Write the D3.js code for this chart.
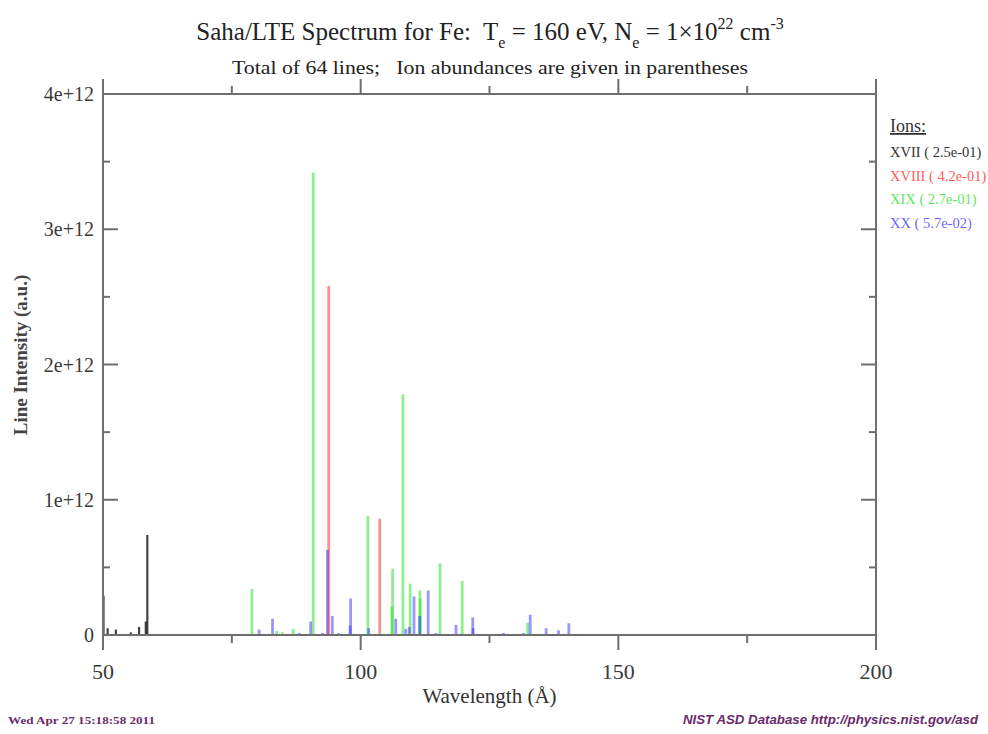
<!DOCTYPE html>
<html>
<head>
<meta charset="utf-8">
<script src="https://cdn.jsdelivr.net/npm/d3@7"></script>
<style>
body { margin: 0; background: #fff; }
svg { font-family: "Liberation Serif", "DejaVu Serif", serif; }
text { white-space: pre; }
</style>
</head>
<body>
<script>
// wavelengths (Angstrom) and intensities (units of 1e12) per ion
var xviiWl  = [50.1, 50.9, 52.5, 55.4, 57.0, 58.3, 58.6],
	xviiInt = [0.29, 0.05, 0.04, 0.02, 0.06, 0.10, 0.74];
var xviiiWl  = [93.8, 103.7],
	xviiiInt = [2.58, 0.86];
var xixWl  = [78.9, 83.7, 84.8, 86.9, 90.8, 101.4, 106.05, 106.2, 108.2, 109.6, 111.5, 111.55, 115.4, 119.7, 132.4],
	xixInt = [0.34, 0.03, 0.02, 0.045, 3.42, 0.88, 0.21, 0.49, 1.78, 0.38, 0.33, 0.27, 0.53, 0.40, 0.09];
var xxWl  = [80.3, 82.9, 88.1, 90.3, 92.6, 93.55, 94.5, 95.7, 97.95, 98.05, 101.55, 106.8, 108.75, 109.45, 110.35, 111.45, 113.1, 114.6, 118.5, 121.75, 121.8, 127.7, 131.6, 132.9, 136.0, 138.4, 140.4],
	xxInt = [0.04, 0.12, 0.015, 0.10, 0.015, 0.63, 0.14, 0.015, 0.07, 0.27, 0.05, 0.12, 0.045, 0.06, 0.285, 0.14, 0.33, 0.015, 0.075, 0.13, 0.05, 0.015, 0.015, 0.15, 0.05, 0.035, 0.087];

var ionNames = ["XVII", "XVIII", "XIX", "XX"],
	abundances = ["2.5e-01", "4.2e-01", "2.7e-01", "5.7e-02"],
	ionColors = ["#222222", "#ff2020", "#20e020", "#3030ff"];

var yTickLabels = ["0", "1e+12", "2e+12", "3e+12", "4e+12"],
	xMajor = [50, 100, 150, 200],
	xMinor = [75, 125, 175],
	yMajor = [0, 1, 2, 3, 4],
	yMinor = [0.5, 1.5, 2.5, 3.5];

var width = 988,
	height = 734,
	pLeft = 103, pRight = 876, pTop = 94, pBottom = 635;

var x = d3.scaleLinear().domain([50, 200]).range([pLeft, pRight]),
	y = d3.scaleLinear().domain([0, 4]).range([pBottom, pTop]);

var svg = d3.select("body").append("svg")
		.attr("width", width)
		.attr("height", height);

function ion(i, wl, inten){
	return wl.map(function(d, j){ return {wl: d, v: inten[j], ion: i}; });
}
var lines = [].concat(ion(0, xviiWl, xviiInt), ion(1, xviiiWl, xviiiInt),
	ion(2, xixWl, xixInt), ion(3, xxWl, xxInt));

// title
var title = svg.append("text")
		.attr("x", 490)
		.attr("y", 40)
		.attr("text-anchor", "middle")
		.attr("font-size", 25)
		.attr("fill", "#222");
title.append("tspan").text("Saha/LTE Spectrum for Fe:  T");
title.append("tspan").attr("dy", 8).attr("font-size", 16).text("e");
title.append("tspan").attr("dy", -8).text(" = 160 eV, N");
title.append("tspan").attr("dy", 8).attr("font-size", 16).text("e");
title.append("tspan").attr("dy", -8).text(" = 1\u00d710");
title.append("tspan").attr("dy", -11).attr("font-size", 16).text("22");
title.append("tspan").attr("dy", 11).text(" cm");
title.append("tspan").attr("dy", -11).attr("font-size", 16).text("-3");

svg.append("text")
		.attr("x", 490)
		.attr("y", 74)
		.attr("text-anchor", "middle")
		.attr("font-size", 19)
		.attr("fill", "#222")
		.attr("textLength", 516)
		.attr("lengthAdjust", "spacingAndGlyphs")
		.text("Total of 64 lines;   Ion abundances are given in parentheses");

// spectral lines
svg.append("g").selectAll("line")
		.data(lines)
	.enter().append("line")
		.attr("x1", function(d){ return x(d.wl); })
		.attr("x2", function(d){ return x(d.wl); })
		.attr("y1", y(0))
		.attr("y2", function(d){ return y(d.v); })
		.attr("stroke", function(d){ return ionColors[d.ion]; })
		.attr("stroke-width", function(d){ return d.ion == 0 ? 2.2 : 2.8; })
		.attr("stroke-opacity", function(d){ return d.ion == 0 ? 0.85 : 0.5; });

// frame
var frameColor = "#6e6e6e";
svg.append("rect")
		.attr("x", pLeft)
		.attr("y", pTop)
		.attr("width", pRight - pLeft)
		.attr("height", pBottom - pTop)
		.attr("fill", "none")
		.attr("stroke", frameColor)
		.attr("stroke-width", 2);

// ticks: bottom and top point outward, left and right point inward
var ticks = svg.append("g").attr("stroke", frameColor).attr("stroke-width", 2);
function xTicks(vals, len){
	ticks.selectAll(null).data(vals).enter().append("line")
		.attr("x1", x).attr("x2", x)
		.attr("y1", pBottom).attr("y2", pBottom + len);
	ticks.selectAll(null).data(vals).enter().append("line")
		.attr("x1", x).attr("x2", x)
		.attr("y1", pTop).attr("y2", pTop - len);
}
function yTicks(vals, len){
	ticks.selectAll(null).data(vals).enter().append("line")
		.attr("y1", y).attr("y2", y)
		.attr("x1", pLeft).attr("x2", pLeft + len);
	ticks.selectAll(null).data(vals).enter().append("line")
		.attr("y1", y).attr("y2", y)
		.attr("x1", pRight).attr("x2", pRight - len);
}
xTicks(xMajor, 15);
xTicks(xMinor, 8);
yTicks(yMajor, 15);
yTicks(yMinor, 7);

svg.append("g").selectAll("text")
		.data(xMajor)
	.enter().append("text")
		.attr("x", x)
		.attr("y", 679)
		.attr("text-anchor", "middle")
		.attr("font-size", 22)
		.attr("fill", "#3a3a3a")
		.text(function(d){ return d; });

svg.append("g").selectAll("text")
		.data(yMajor)
	.enter().append("text")
		.attr("x", 94)
		.attr("y", function(d){ return y(d) + 7; })
		.attr("text-anchor", "end")
		.attr("font-size", 20)
		.attr("fill", "#3a3a3a")
		.text(function(d, i){ return yTickLabels[i]; });

svg.append("text")
		.attr("x", (pLeft + pRight) / 2)
		.attr("y", 703)
		.attr("text-anchor", "middle")
		.attr("font-size", 21)
		.attr("fill", "#333")
		.text("Wavelength (\u00c5)");

svg.append("text")
		.attr("transform", "translate(27," + 355 + ") rotate(-90)")
		.attr("text-anchor", "middle")
		.attr("font-size", 19)
		.attr("font-weight", "bold")
		.attr("fill", "#444")
		.text("Line Intensity (a.u.)");

// legend
svg.append("text")
		.attr("x", 890)
		.attr("y", 132)
		.attr("font-size", 18)
		.attr("fill", "#333")
		.attr("text-decoration", "underline")
		.text("Ions:");

svg.append("g").selectAll("text")
		.data(ionNames)
	.enter().append("text")
		.attr("x", 890)
		.attr("y", function(d, i){ return 157 + i * 23.5; })
		.attr("font-size", 14.5)
		.attr("fill", function(d, i){ return ionColors[i] == "#222222" ? "#333" : ionColors[i]; })
		.attr("fill-opacity", function(d, i){ return i == 0 ? 1 : 0.75; })
		.text(function(d, i){ return d + " ( " + abundances[i] + ")"; });

// footer
svg.append("text")
		.attr("x", 8)
		.attr("y", 724)
		.attr("font-size", 11)
		.attr("font-weight", "bold")
		.attr("fill", "#6a2a6a")
		.attr("textLength", 147)
		.attr("lengthAdjust", "spacingAndGlyphs")
		.text("Wed Apr 27 15:18:58 2011");

svg.append("text")
		.attr("x", 978)
		.attr("y", 724)
		.attr("text-anchor", "end")
		.attr("font-family", "Liberation Sans, sans-serif")
		.attr("font-size", 12)
		.attr("font-weight", "bold")
		.attr("font-style", "italic")
		.attr("fill", "#6a2a6a")
		.attr("textLength", 295)
		.attr("lengthAdjust", "spacingAndGlyphs")
		.text("NIST ASD Database http://physics.nist.gov/asd");
</script>
</body>
</html>
